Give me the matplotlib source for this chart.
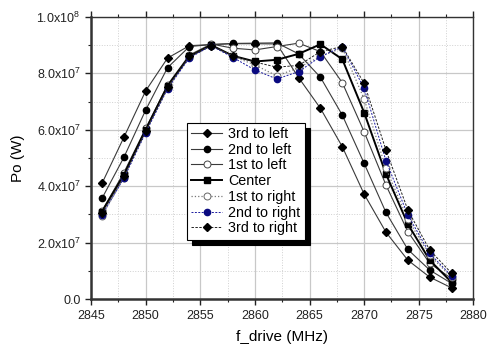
import matplotlib
matplotlib.use("Agg")
import matplotlib.pyplot as plt
import numpy as np
from matplotlib.ticker import MultipleLocator, FixedLocator, FixedFormatter

freq = [2846, 2848, 2850, 2852, 2854, 2856, 2858, 2860, 2862, 2864, 2866, 2868, 2870, 2872, 2874, 2876, 2878]

left3 = [4.10, 5.73, 7.38, 8.54, 8.98, 9.02, 9.05, 9.05, 9.04, 7.85, 6.76, 5.40, 3.72, 2.37, 1.38, 0.78, 0.40]
left2 = [3.57, 5.02, 6.70, 8.20, 8.95, 9.02, 9.06, 9.07, 9.08, 8.69, 7.86, 6.52, 4.81, 3.07, 1.76, 1.03, 0.56]
left1 = [3.13, 4.48, 6.05, 7.59, 8.65, 9.04, 8.89, 8.83, 8.95, 9.07, 8.77, 7.67, 5.93, 4.04, 2.39, 1.27, 0.73]
center = [3.10, 4.40, 6.00, 7.55, 8.60, 9.00, 8.62, 8.42, 8.48, 8.69, 9.03, 8.50, 6.61, 4.43, 2.66, 1.38, 0.60]
right1 = [2.95, 4.30, 5.93, 7.48, 8.57, 8.98, 8.60, 8.30, 7.91, 8.20, 8.60, 8.90, 7.09, 4.63, 2.83, 1.55, 0.78]
right2 = [2.98, 4.28, 5.90, 7.45, 8.55, 8.98, 8.56, 8.12, 7.80, 8.06, 8.59, 8.95, 7.47, 4.90, 2.98, 1.62, 0.82]
right3 = [3.05, 4.35, 5.95, 7.50, 8.60, 8.98, 8.62, 8.40, 8.22, 8.28, 8.77, 8.95, 7.65, 5.28, 3.16, 1.74, 0.92]

labels = ["3rd to left", "2nd to left", "1st to left", "Center", "1st to right", "2nd to right", "3rd to right"]
yticks = [0, 2e7, 4e7, 6e7, 8e7, 1e8]
ytick_labels = ["0.0", r"2.0x10$^{7}$", r"4.0x10$^{7}$", r"6.0x10$^{7}$", r"8.0x10$^{7}$", r"1.0x10$^{8}$"]
xticks = [2845, 2850, 2855, 2860, 2865, 2870, 2875, 2880]

plt.rcParams['font.family'] = ['Liberation Sans', 'DejaVu Sans']
plt.rcParams['mathtext.fontset'] = 'custom'
plt.rcParams['mathtext.rm'] = 'Liberation Sans'

fig = plt.figure(figsize=(4.87, 3.45), dpi=100)
ax = fig.add_axes([0.187, 0.133, 0.785, 0.818])

def sc(v):
    return np.array(v) * 1e7

gray = '#3a3a3a'
ax.plot(freq, sc(left3), '-', color=gray, lw=0.8, marker='D', ms=4.5, mfc='black', mec='black', label=labels[0])
ax.plot(freq, sc(left2), '-', color=gray, lw=0.8, marker='o', ms=4.5, mfc='black', mec='black', label=labels[1])
ax.plot(freq, sc(left1), '-', color=gray, lw=0.8, marker='o', ms=5, mfc='white', mec='#444444', mew=0.7, label=labels[2])
ax.plot(freq, sc(center), '-', color='black', lw=1.4, marker='s', ms=4, mfc='black', mec='black', label=labels[3])
ax.plot(freq, sc(right1), ':', color='#777777', lw=0.9, marker='o', ms=5, mfc='white', mec='#666666', mew=0.7, label=labels[4])
ax.plot(freq, sc(right2), '--', color='#1a1aa0', lw=0.7, dashes=(2, 1.5), marker='o', ms=4.5, mfc='#0a0a80', mec='#0a0a80', label=labels[5])
ax.plot(freq, sc(right3), '--', color='#222222', lw=0.7, dashes=(2.5, 1.5), marker='D', ms=4.5, mfc='black', mec='black', label=labels[6])

ax.set_xlim(2845, 2880)
ax.set_ylim(0, 1e8)
ax.xaxis.set_major_locator(FixedLocator(xticks))
ax.xaxis.set_minor_locator(MultipleLocator(2.5))
ax.yaxis.set_major_locator(FixedLocator(yticks))
ax.yaxis.set_major_formatter(FixedFormatter(ytick_labels))
ax.yaxis.set_minor_locator(MultipleLocator(1e7))

ax.grid(which='major', color='#c8c8c8', lw=0.9, ls='-')
ax.grid(which='minor', color='#d0d0d0', lw=0.7, ls=':')
ax.set_axisbelow(True)

ax.tick_params(axis='both', which='both', direction='out', labelsize=9, colors='#222222')
ax.tick_params(which='major', length=4, width=1)
ax.tick_params(which='minor', length=2.5, width=0.8)
ax.tick_params(top=True, which='both', direction='in')
ax.tick_params(bottom=True, left=True, which='both', direction='out')

for s in ['left', 'bottom']:
    ax.spines[s].set_linewidth(1.8)
    ax.spines[s].set_color('#333333')
for s in ['top', 'right']:
    ax.spines[s].set_linewidth(1.0)
    ax.spines[s].set_color('#333333')

ax.set_xlabel('f_drive (MHz)', fontsize=11, labelpad=6)
ax.set_ylabel('Po (W)', fontsize=11, labelpad=8)

leg = ax.legend(loc='upper left', bbox_to_anchor=(0.25, 0.625), fontsize=10.3, frameon=True,
                fancybox=False, shadow={'color': 'black', 'alpha': 1, 'ox': 4, 'oy': -4}, edgecolor='black',
                borderpad=0.3, labelspacing=0.12, handlelength=2.2, handletextpad=0.4, borderaxespad=0)
leg.get_frame().set_linewidth(0.8)

fig.savefig('out.png', dpi=100)
